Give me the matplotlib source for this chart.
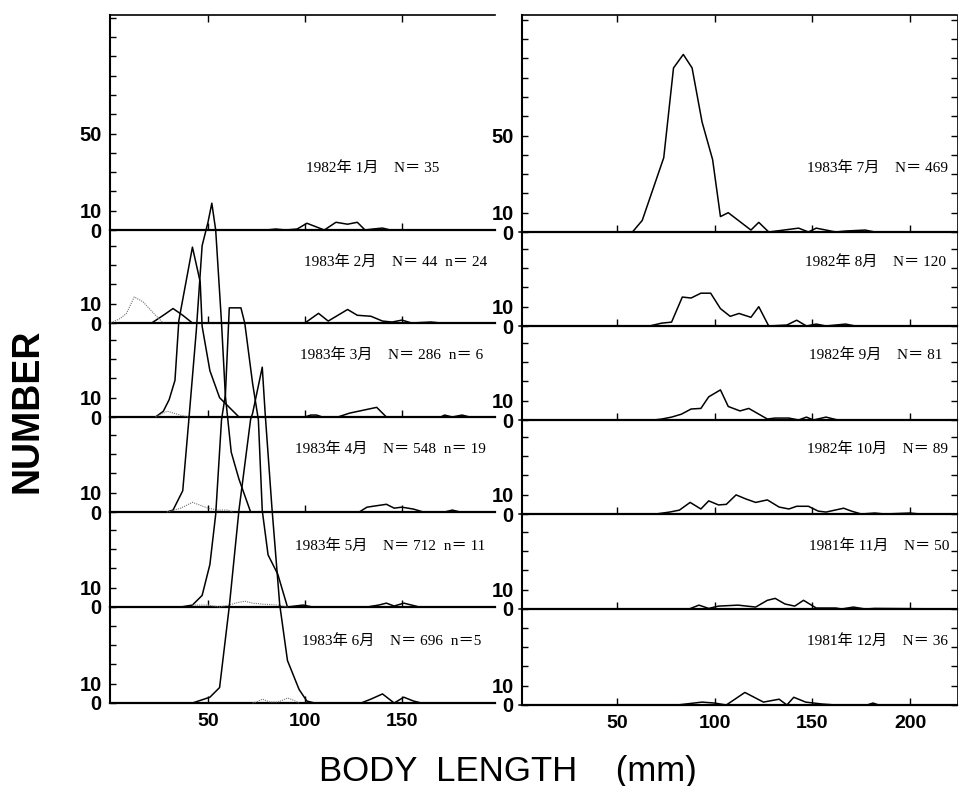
import matplotlib
matplotlib.use("Agg")
import matplotlib.pyplot as plt
from matplotlib.ticker import FixedLocator, FuncFormatter

# ---- length-frequency data (body length mm, number) ----
JAN82_MM = [0, 80, 85, 90, 96, 101, 110, 116, 122, 127, 131, 135, 140, 144, 170, 198]
JAN82_N = [0, 0, 0.5, 0, 0.5, 3.5, 0, 4, 3, 4, 0, 0.5, 1, 0, 0, 0]

FEB83_MM = [0, 21, 27, 32, 37, 42, 100, 107, 112, 122, 127, 134, 140, 145, 150, 155, 165, 170]
FEB83_N = [0, 0, 4, 7.5, 4, 0, 0, 5, 1, 7, 4, 3.5, 1, 0.5, 1.5, 0, 0.5, 0]
FEB83_SUB_MM = [0, 5, 8, 12, 16.5, 22, 27]
FEB83_SUB_N = [0, 2.5, 5, 13.5, 11, 5, 0]

MAR83_MM = [0, 23, 27, 30, 33, 35, 42, 46, 47, 51, 56, 66, 100, 103, 106, 109, 117, 123,
            137, 142, 170, 172, 176, 181, 185]
MAR83_N = [0, 0, 3, 9, 19, 50, 88, 70, 47, 24, 10, 0, 0, 1, 1, 0, 0, 2, 5, 0, 0, 1, 0, 1, 0]
MAR83_SUB_MM = [23, 29, 35.6, 40]
MAR83_SUB_N = [0, 3, 1, 0]

APR83_MM = [0, 29, 32, 37, 40, 44, 47, 50, 52, 54, 57, 59, 62, 66, 72, 128, 132, 142, 146,
            150, 156, 161, 172, 176, 180]
APR83_N = [0, 0, 1, 11, 46, 94, 138, 150, 160, 146, 98, 60, 31, 17, 0, 0, 2.5, 4, 2, 2.5,
           1.5, 0, 0, 1, 0]
APR83_SUB_MM = [29, 36, 42, 46, 50, 55, 60, 63]
APR83_SUB_N = [0, 2, 5, 3.5, 2, 1, 1, 0]

MAY83_MM = [0, 36, 42, 47, 51, 54, 57, 59, 61, 67, 69, 73, 76, 78, 81, 86, 91, 99, 104,
            132, 138, 142, 146, 151, 159]
MAY83_N = [0, 0, 1, 6, 22, 48, 97, 110, 155, 155, 147, 116, 97, 50, 27, 17, 0, 1, 0, 0, 1,
           2, 0.5, 2, 0]
MAY83_SUB_MM = [42, 50, 56, 61, 64, 69, 73, 78, 86, 91]
MAY83_SUB_N = [1, 1, 0, 1, 2, 3, 2, 1.5, 1, 0]

JUN83_MM = [0, 42, 45, 51, 56, 61, 66, 72, 73, 78, 79.5, 83, 87, 91, 97, 101, 105, 125, 129,
            134, 140, 146, 151, 156, 160]
JUN83_N = [0, 0, 1, 3, 8, 50, 100, 147, 150, 174, 150, 101, 51, 22, 7, 1, 0, 0, 0, 2, 4.7,
           0, 3, 1, 0]
JUN83_SUB_MM = [73, 75, 78, 82, 86, 88.6, 91, 94, 97]
JUN83_SUB_N = [0, 0.5, 2, 0.5, 0.5, 1.5, 2.6, 1.5, 0]

JUL83_MM = [0, 58, 63, 74, 79, 84, 88.5, 93.6, 99, 103, 107, 118.6, 122.6, 127.7, 143, 148,
            152, 162, 167, 177, 182, 224]
JUL83_N = [0, 0, 6, 38.5, 85, 92, 85, 57, 37.5, 8, 10, 1, 5, 0, 2, 0, 2, 0, 0.5, 1, 0, 0]

AUG82_MM = [0, 66.7, 73, 78, 83.5, 88, 93, 98, 103, 108, 112.5, 118.6, 122.6, 127.7, 137,
            142, 147, 152, 157, 167, 172, 224]
AUG82_N = [0, 0, 1.5, 2, 15, 14.5, 17, 17, 9, 5, 6.5, 4.5, 10, 0, 0.5, 3, 0, 1, 0, 1, 0, 0]

SEP82_MM = [0, 69, 73, 78, 83, 88, 93, 97, 103, 107, 113, 117.5, 127, 131, 138, 143, 147,
            150.6, 157, 163, 224]
SEP82_N = [0, 0, 0.5, 1.5, 3, 5.7, 6, 12, 15.6, 7, 4.7, 6, 0.5, 1, 1, 0, 1.5, 0, 1.5, 0, 0]

OCT82_MM = [0, 70, 77, 82, 87.5, 93, 97, 102, 106, 111, 116, 121, 127, 133, 138, 142, 148,
            153, 157, 166, 170, 175, 182, 187, 200, 205, 224]
OCT82_N = [0, 0, 1, 2, 6, 2.6, 6.8, 4.7, 5, 9.9, 7.8, 6, 7.3, 3.6, 2.6, 4, 4, 1.5, 1, 3,
           1.5, 0, 0.5, 0, 0.5, 0, 0]

NOV81_MM = [0, 87, 92, 97, 102, 112, 121, 127, 131, 136, 141, 145.5, 152, 157, 162, 165, 171,
            177, 182, 224]
NOV81_N = [0, 0, 2, 0.3, 1.5, 2, 1, 4.5, 5.5, 2.6, 1.5, 4.5, 0.5, 0.5, 0.5, 0, 1, 0, 0.3, 0]

DEC81_MM = [0, 81, 93.6, 100, 106, 115.5, 125, 133, 137, 140.5, 146.6, 155, 162, 178, 181,
            184, 224]
DEC81_N = [0, 0, 1.5, 1, 0, 6.5, 1.5, 3, 0, 4, 1.5, 0.5, 0, 0, 1, 0, 0]

LEFT_LABELS = ["1982年 1月    N＝ 35", "1983年 2月    N＝ 44  n＝ 24",
               "1983年 3月    N＝ 286  n＝ 6", "1983年 4月    N＝ 548  n＝ 19",
               "1983年 5月    N＝ 712  n＝ 11", "1983年 6月    N＝ 696  n＝5"]
RIGHT_LABELS = ["1983年 7月    N＝ 469", "1982年 8月    N＝ 120",
                "1982年 9月    N＝ 81", "1982年 10月    N＝ 89",
                "1981年 11月    N＝ 50", "1981年 12月    N＝ 36"]

LEFT = [(JAN82_MM, JAN82_N, None, None),
        (FEB83_MM, FEB83_N, FEB83_SUB_MM, FEB83_SUB_N),
        (MAR83_MM, MAR83_N, MAR83_SUB_MM, MAR83_SUB_N),
        (APR83_MM, APR83_N, APR83_SUB_MM, APR83_SUB_N),
        (MAY83_MM, MAY83_N, MAY83_SUB_MM, MAY83_SUB_N),
        (JUN83_MM, JUN83_N, JUN83_SUB_MM, JUN83_SUB_N)]
RIGHT = [(JUL83_MM, JUL83_N, None, None), (AUG82_MM, AUG82_N, None, None),
         (SEP82_MM, SEP82_N, None, None), (OCT82_MM, OCT82_N, None, None),
         (NOV81_MM, NOV81_N, None, None), (DEC81_MM, DEC81_N, None, None)]

# ---- layout (pixels) ----
W, H = 959, 786
TOP = 15
PX_PER_N = 1.93
COLS = [dict(x0=110, x1=495, xlim=(-0.5, 198), base=[230, 323, 417, 512, 607, 703],
             xt=[50, 100, 150], lab_x=[306, 304, 300, 295, 295, 302], right=False,
             panels=LEFT, labels=LEFT_LABELS),
        dict(x0=522, x1=957, xlim=(1.5, 224), base=[232, 326, 420, 514, 609, 705],
             xt=[50, 100, 150, 200], lab_x=[807, 805, 809, 807, 809, 807], right=True,
             panels=RIGHT, labels=RIGHT_LABELS)]
LAB_Y = [168, 262, 355, 449, 546, 641]

LABEL_FONT = ["Liberation Serif", "Noto Sans CJK JP"]

fig = plt.figure(figsize=(W / 100, H / 100), dpi=100)

for col in COLS:
    for i, (mm, n, smm, sn) in enumerate(col["panels"]):
        top = TOP if i == 0 else col["base"][i - 1]
        bot = col["base"][i]
        ax = fig.add_axes([col["x0"] / W, 1 - bot / H, (col["x1"] - col["x0"]) / W, (bot - top) / H])
        ax.patch.set_visible(False)
        ymax = (bot - top) / PX_PER_N
        ax.set_xlim(*col["xlim"]); ax.set_ylim(0, ymax)

        ax.plot(mm, n, color="black", lw=1.1, clip_on=False, zorder=3)
        if smm is not None:
            ax.plot(smm, sn, color="0.45", lw=0.8, ls=(0, (1, 1)), clip_on=False, zorder=3)

        for s in ("top", "right"):
            ax.spines[s].set_visible(False)
        if i == 0:
            ax.spines["top"].set_visible(True); ax.spines["top"].set_linewidth(1.2)
        if col["right"]:
            ax.spines["right"].set_visible(True); ax.spines["right"].set_linewidth(0.6)
        ax.spines["left"].set_linewidth(1.5)
        ax.spines["bottom"].set_linewidth(1.6)

        labelled = [0, 10, 50] if i == 0 else [0, 10]
        ax.yaxis.set_major_locator(FixedLocator(list(range(0, int(ymax) + 1, 10))))
        ax.yaxis.set_major_formatter(FuncFormatter(
            lambda v, p, keep=labelled: f"{int(v)}" if int(v) in keep else ""))
        ax.tick_params(axis="y", direction="in", length=4, width=1.0, pad=6,
                       right=col["right"], labelsize=14.5)
        for t in ax.get_yticklabels():
            t.set_fontweight("bold"); t.set_family("Liberation Sans")

        ax.set_xticks(col["xt"])
        last = i == len(col["panels"]) - 1
        ax.tick_params(axis="x", direction="in", length=5, width=1.0, pad=7,
                       top=(i == 0), labelbottom=last, labelsize=14)
        for t in ax.get_xticklabels():
            t.set_fontweight("bold"); t.set_family("Liberation Sans")

        fig.text(col["lab_x"][i] / W, 1 - LAB_Y[i] / H, col["labels"][i],
                 ha="left", va="center", fontsize=11, family=LABEL_FONT)

fig.text(28 / W, 1 - 411 / H, "NUMBER", rotation=90, ha="center", va="center",
         fontsize=27, fontweight="bold", family="Liberation Sans")
fig.text(508 / W, 1 - 771 / H, "BODY  LENGTH    (mm)", ha="center", va="center",
         fontsize=25, family="Liberation Sans")

fig.savefig("out.png", dpi=100)
